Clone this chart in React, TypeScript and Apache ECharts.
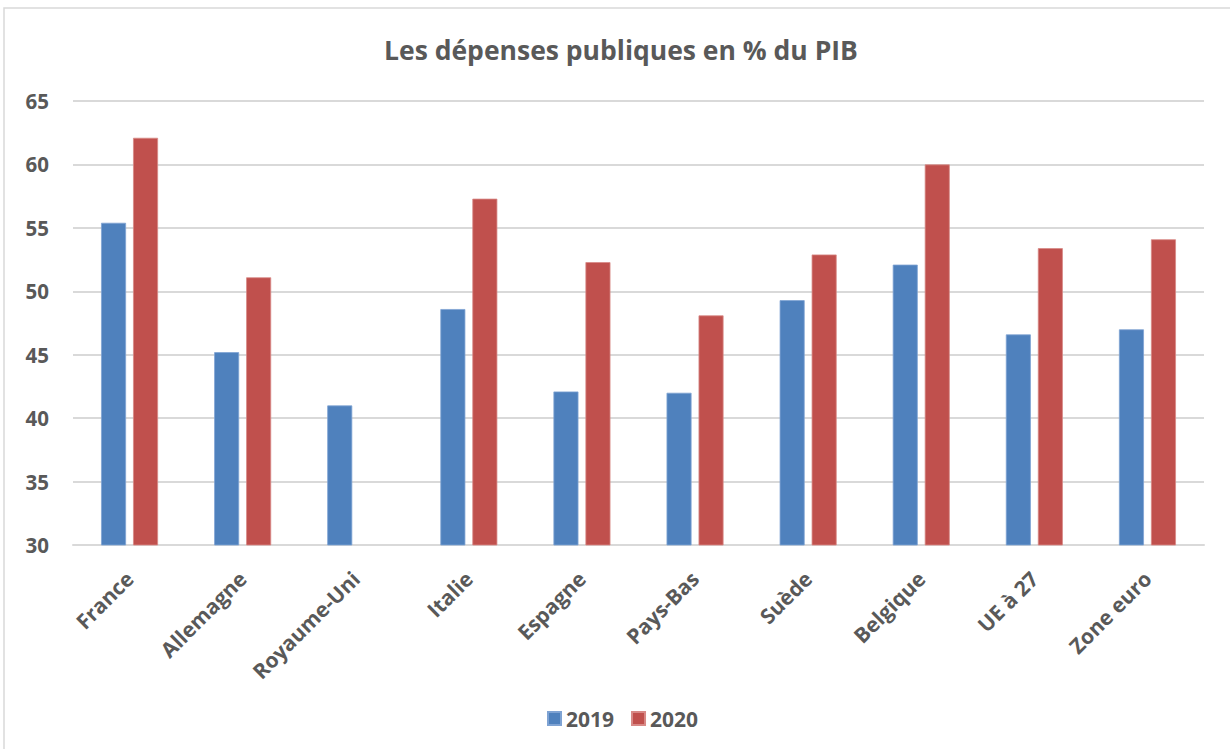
import React, { useEffect, useRef } from "react";
import * as echarts from "echarts";

const categories = [
  "France",
  "Allemagne",
  "Royaume-Uni",
  "Italie",
  "Espagne",
  "Pays-Bas",
  "Suède",
  "Belgique",
  "UE à 27",
  "Zone euro",
];
const values2019 = [55.4, 45.2, 41.0, 48.6, 42.1, 42.0, 49.3, 52.1, 46.6, 47.0];
const values2020: (number | null)[] = [62.1, 51.1, null, 57.3, 52.3, 48.1, 52.9, 60.0, 53.4, 54.1];
const seriesNames = ["2019", "2020"];
const yMin = 30;
const yMax = 65;
const yInterval = 5;

const FONT = "'Open Sans', Lato, sans-serif";
const TEXT = "#595959";

export default function App() {
  const ref = useRef<HTMLDivElement>(null);
  useEffect(() => {
    if (!ref.current) return;
    const chart = echarts.init(ref.current, undefined, { renderer: "svg" });
    chart.setOption({
      animation: false,
      backgroundColor: "#ffffff",
      textStyle: { fontFamily: FONT },
      title: {
        text: "Les dépenses publiques en % du PIB",
        left: 379,
        top: 31,
        textStyle: { fontFamily: FONT, fontSize: 26.5, fontWeight: "bold", color: TEXT },
      },
      graphic: [
        {
          type: "rect",
          shape: { x: 4, y: 8, width: 1240, height: 760 },
          style: { fill: "none", stroke: "#D9D9D9", lineWidth: 1.5 },
          silent: true,
        },
      ],
      legend: {
        top: 703,
        left: 542,
        itemWidth: 13,
        itemHeight: 13,
        itemGap: 17,
        icon: "rect",
        textStyle: { fontFamily: FONT, fontSize: 21, fontWeight: "bold", color: TEXT },
        data: seriesNames,
      },
      grid: { left: 73, right: 26, top: 101, bottom: 204, containLabel: false },
      xAxis: {
        type: "category",
        data: categories,
        axisLine: { lineStyle: { color: "#D9D9D9", width: 2 } },
        axisTick: { show: false },
        axisLabel: {
          rotate: 45,
          interval: 0,
          margin: 30,
          fontFamily: FONT,
          fontSize: 21,
          fontWeight: "bold",
          color: TEXT,
        },
      },
      yAxis: {
        type: "value",
        min: yMin,
        max: yMax,
        interval: yInterval,
        axisLine: { show: false },
        axisTick: { show: false },
        splitLine: { lineStyle: { color: "#D9D9D9", width: 2 } },
        axisLabel: {
          margin: 24,
          fontFamily: FONT,
          fontSize: 20.5,
          fontWeight: "bold",
          color: TEXT,
        },
      },
      series: [
        {
          name: seriesNames[0],
          type: "bar",
          data: values2019,
          barWidth: 25,
          barGap: "28%",
          itemStyle: { color: "#4F81BD", borderColor: "#7FA3D3", borderWidth: 0.8 },
        },
        {
          name: seriesNames[1],
          type: "bar",
          data: values2020,
          barWidth: 25,
          barGap: "28%",
          itemStyle: { color: "#C0504D", borderColor: "#D88986", borderWidth: 0.8 },
        },
      ],
    });
    return () => chart.dispose();
  }, []);
  return (
    <div
      ref={ref}
      style={{ position: "absolute", left: 0, top: 0, width: 1230, height: 749 }}
    />
  );
}
